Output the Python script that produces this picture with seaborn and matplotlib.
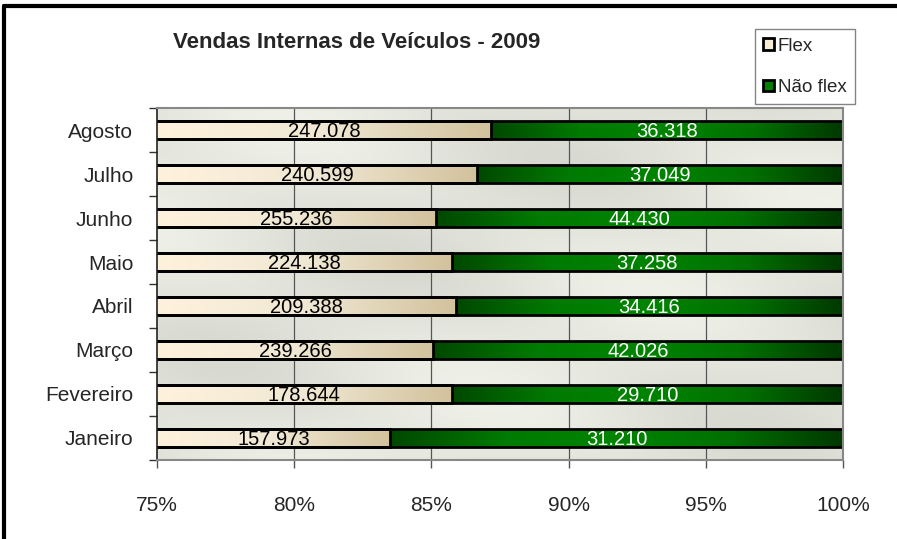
import numpy as np
import pandas as pd
import matplotlib
matplotlib.use("Agg")
import matplotlib.pyplot as plt
from matplotlib.colors import LinearSegmentedColormap
from matplotlib.patches import Patch
from matplotlib.lines import Line2D
import seaborn as sns

# Data
months = ["Janeiro", "Fevereiro", "Março", "Abril", "Maio", "Junho", "Julho", "Agosto"]
flex = [157973, 178644, 239266, 209388, 224138, 255236, 240599, 247078]
nao_flex = [31210, 29710, 42026, 34416, 37258, 44430, 37049, 36318]
x_ticks = [75, 80, 85, 90, 95, 100]

sns.set_style("white")
plt.rcParams["font.family"] = ["Liberation Sans", "DejaVu Sans"]

df = pd.DataFrame({"mes": months, "flex": flex, "nao_flex": nao_flex})
df["total"] = 100.0
df["share"] = df["flex"] / (df["flex"] + df["nao_flex"]) * 100
order = months[::-1]

fig = plt.figure(figsize=(8.97, 5.39), dpi=100)
ax = fig.add_axes([0.175, 0.1466, 0.7648, 0.653])

# Stacked bars: full bar (não flex) first, flex share on top
sns.barplot(data=df, x="total", y="mes", order=order, orient="h",
            width=0.41, color="#008000", ax=ax)
sns.barplot(data=df, x="share", y="mes", order=order, orient="h",
            width=0.41, color="#f5ecd5", ax=ax)

n = len(order)
xmin, xmax = 75, 100

# Background of plot area (soft grey-green texture)
yy, xx = np.mgrid[0:200, 0:400]
bg = 0.5 + 0.25 * np.sin((xx * 0.9 + yy * 1.6) / 55.0) + 0.15 * np.sin((xx - yy * 2.2) / 35.0)
bg_cmap = LinearSegmentedColormap.from_list("bg", ["#d8dad2", "#e4e6de", "#eff0e8"])
ax.imshow(bg, extent=[xmin, xmax, n - 0.5, -0.5], aspect="auto", cmap=bg_cmap,
          zorder=0, interpolation="bilinear")

flex_cmap = LinearSegmentedColormap.from_list("flex", ["#fff2dc", "#f0e8d4", "#d2c29c"])
green_cmap = LinearSegmentedColormap.from_list(
    "green", ["#004800", "#007a00", "#008400", "#007000", "#003800"])
grad = np.linspace(0, 1, 256).reshape(1, -1)

patches = list(ax.patches)
nf_patches = patches[:n]
fl_patches = patches[n:2 * n]
shares = df.set_index("mes").loc[order, "share"].values
flex_o = df.set_index("mes").loc[order, "flex"].values
nf_o = df.set_index("mes").loc[order, "nao_flex"].values


def fmt(v):
    return f"{v:,}".replace(",", ".")


for i, (pn, pf) in enumerate(zip(nf_patches, fl_patches)):
    s = shares[i]
    y0 = pn.get_y()
    h = pn.get_height()
    im = ax.imshow(grad, extent=[s, xmax, y0 + h, y0], aspect="auto",
                   cmap=green_cmap, zorder=1)
    im.set_clip_path(pn)
    im2 = ax.imshow(grad, extent=[xmin, s, y0 + h, y0], aspect="auto",
                    cmap=flex_cmap, zorder=1.1)
    im2.set_clip_path(pf)
    for p, z in ((pn, 2), (pf, 2.1)):
        p.set_facecolor("none")
        p.set_edgecolor("black")
        p.set_linewidth(2)
        p.set_zorder(z)
    yc = y0 + h / 2 + 0.04
    ax.text((xmin + s) / 2, yc, fmt(int(flex_o[i])), ha="center", va="center",
            fontsize=14.5, color="black", zorder=5)
    ax.text((s + xmax) / 2, yc, fmt(int(nf_o[i])), ha="center", va="center",
            fontsize=14.5, color="white", zorder=5)

ax.set_xlim(xmin, xmax)
ax.set_ylim(n - 0.5, -0.5)

# Grid lines
for xv in x_ticks[1:-1]:
    ax.axvline(xv, color="#555555", lw=0.9, zorder=0.5)

ax.set_xticks(x_ticks)
ax.set_xticklabels([f"{v}%" for v in x_ticks])
ax.set_yticks(range(n))
ax.set_yticklabels(order)
ax.set_yticks(np.arange(-0.5, n, 1), minor=True)
ax.tick_params(axis="y", which="major", length=0, pad=17, labelsize=15)
ax.tick_params(axis="y", which="minor", length=6, width=1, color="#333333", direction="out", left=True)
ax.tick_params(axis="x", which="major", length=6, width=1, color="#555555", direction="out",
               pad=20, labelsize=15, bottom=True)
ax.set_xlabel("")
ax.set_ylabel("")

for side in ("top", "right", "bottom"):
    ax.spines[side].set_color("#888888")
    ax.spines[side].set_linewidth(1.5)
ax.spines["left"].set_color("#222222")
ax.spines["left"].set_linewidth(1.2)

fig.text(0.398, 0.922, "Vendas Internas de Veículos - 2009", ha="center", va="center",
         fontsize=16, fontweight="bold")

handles = [Patch(facecolor="#f5ecd5", edgecolor="black", linewidth=2, label="Flex"),
           Patch(facecolor="#008000", edgecolor="black", linewidth=2, label="Não flex")]
leg = fig.legend(handles=handles, loc="upper left", bbox_to_anchor=(0.8417, 0.946),
                 frameon=True, fancybox=False, fontsize=13.5, handlelength=0.55,
                 handleheight=0.55, handletextpad=0.2, labelspacing=1.3,
                 borderpad=0.45, borderaxespad=0)
leg.get_frame().set_edgecolor("#666666")
leg.get_frame().set_linewidth(1)

# Outer chart border (top and left visible)
fig.add_artist(Line2D([0.004, 1.0], [0.988, 0.988], color="black", lw=3, transform=fig.transFigure))
fig.add_artist(Line2D([0.004, 0.004], [0.0, 0.988], color="black", lw=3, transform=fig.transFigure))

fig.savefig("out.png", dpi=100)
